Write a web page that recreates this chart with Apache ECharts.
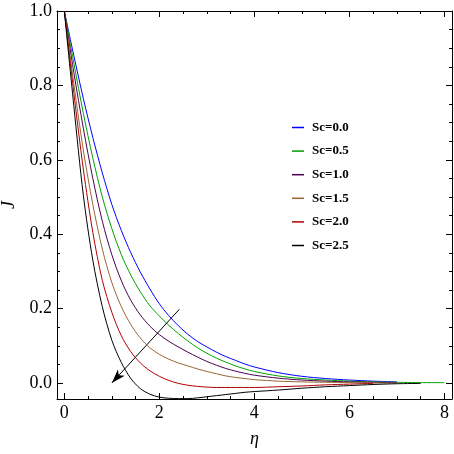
<!DOCTYPE html>
<html>
<head>
<meta charset="utf-8">
<script src="https://cdn.jsdelivr.net/npm/echarts@6/dist/echarts.min.js"></script>
<style>html,body{margin:0;padding:0;background:#fff}#c{width:454px;height:454px}</style>
</head>
<body>
<div id="c"></div>
<script>
var eta = [0, 0.2, 0.4, 0.6, 0.8, 1.0, 1.2, 1.4, 1.6, 1.8, 2.0, 2.2, 2.4, 2.6, 2.8, 3.0, 3.2, 3.4, 3.6, 3.8, 4.0, 4.5, 5.0, 5.5, 6.0, 6.5, 7.0, 7.5, 8.0];
var sc00 = [1, 0.88, 0.765, 0.66, 0.565, 0.48, 0.41, 0.35, 0.298, 0.253, 0.213, 0.181, 0.154, 0.131, 0.112, 0.097, 0.083, 0.071, 0.061, 0.051, 0.043, 0.028, 0.018, 0.012, 0.008, 0.005, 0.003, null, null];
var sc05 = [1, 0.86, 0.725, 0.605, 0.50, 0.415, 0.345, 0.29, 0.245, 0.208, 0.18, 0.155, 0.133, 0.113, 0.095, 0.080, 0.067, 0.056, 0.046, 0.038, 0.031, 0.019, 0.012, 0.008, 0.005, 0.003, 0.002, 0.001, 0.001];
var sc10 = [1, 0.835, 0.685, 0.55, 0.435, 0.345, 0.275, 0.222, 0.183, 0.153, 0.130, 0.112, 0.097, 0.083, 0.070, 0.058, 0.048, 0.039, 0.032, 0.026, 0.021, 0.013, 0.008, 0.005, 0.003, 0.002, 0.001, null, null];
var sc15 = [1, 0.805, 0.626, 0.48, 0.36, 0.27, 0.205, 0.157, 0.121, 0.095, 0.077, 0.064, 0.054, 0.046, 0.038, 0.031, 0.025, 0.019, 0.015, 0.012, 0.009, 0.005, 0.003, 0.002, 0.001, 0, 0, null, null];
var sc20 = [1, 0.78, 0.575, 0.405, 0.276, 0.19, 0.127, 0.084, 0.054, 0.033, 0.018, 0.007, -0.001, -0.006, -0.009, -0.011, -0.012, -0.012, -0.012, -0.012, -0.012, -0.010, -0.008, -0.005, -0.003, -0.001, null, null, null];
var sc25 = [1, 0.745, 0.505, 0.33, 0.205, 0.115, 0.055, 0.012, -0.015, -0.03, -0.038, -0.041, -0.042, -0.042, -0.040, -0.037, -0.034, -0.031, -0.028, -0.025, -0.023, -0.019, -0.014, -0.010, -0.007, -0.004, -0.002, -0.001, null];
var seriesNames = ['Sc=0.0', 'Sc=0.5', 'Sc=1.0', 'Sc=1.5', 'Sc=2.0', 'Sc=2.5'];
var seriesColors = ['#0000ff', '#00a000', '#4c004f', '#996633', '#b00000', '#000000'];
var seriesValues = [sc00, sc05, sc10, sc15, sc20, sc25];
var arrowFrom = [2.42, 0.198];
var arrowTo = [1.0, 0.0];
var xRange = [-0.154, 8.16];
var yRange = [-0.043, 1.0];

function pairs(vals) {
  var out = [];
  for (var i = 0; i < eta.length; i++) {
    if (vals[i] !== null && vals[i] !== undefined) out.push([eta[i], vals[i]]);
  }
  return out;
}

var serif = '"Liberation Serif", "DejaVu Serif", serif';

function xLab(v) {
  var r = Math.round(v);
  return (Math.abs(v - r) < 1e-6 && r % 2 === 0) ? String(r) : '';
}
function yLab(v) {
  var r = Math.round(v * 5);
  return (Math.abs(v * 5 - r) < 1e-6 && v > -0.01) ? (r / 5).toFixed(1) : '';
}

function makeAxis(base, extra) {
  var a = {
    type: 'value',
    min: base.min, max: base.max,
    splitNumber: 5,
    axisLine: { show: true, onZero: false, lineStyle: { color: '#000', width: 1 } },
    axisTick: { show: true, inside: true, length: 6, lineStyle: { color: '#000', width: 1 } },
    minorTick: { show: true, splitNumber: 4, length: 3, lineStyle: { color: '#000', width: 1 } },
    splitLine: { show: false },
    minorSplitLine: { show: false }
  };
  for (var k in extra) a[k] = extra[k];
  return a;
}

var series = seriesValues.map(function (vals, i) {
  return {
    name: seriesNames[i],
    type: 'line',
    xAxisIndex: 0, yAxisIndex: 0,
    data: pairs(vals),
    showSymbol: false,
    symbol: 'none',
    smooth: 0.3,
    lineStyle: { color: seriesColors[i], width: 1 },
    itemStyle: { color: seriesColors[i] },
    animation: false,
    z: 2 + i
  };
});
series.push({
  type: 'line',
  data: [],
  xAxisIndex: 0, yAxisIndex: 0,
  animation: false,
  markLine: {
    silent: true,
    animation: false,
    symbol: ['none', 'arrow'],
    symbolSize: [7, 14],
    label: { show: false },
    lineStyle: { color: '#000', width: 1, type: 'solid' },
    data: [[{ coord: arrowFrom }, { coord: arrowTo }]]
  }
});

var chart = echarts.init(document.getElementById('c'), null, { renderer: 'canvas' });
chart.setOption({
  animation: false,
  backgroundColor: '#fff',
  grid: { left: 57, right: 2, top: 11, bottom: 55, containLabel: false, outerBoundsMode: 'none' },
  legend: {
    orient: 'vertical',
    left: 287, top: 116,
    itemWidth: 12, itemHeight: 1.5,
    itemGap: 10.6,
    icon: 'rect',
    data: seriesNames.map(function (n, i) { return { name: n, itemStyle: { color: seriesColors[i] } }; }),
    textStyle: { color: '#000', fontFamily: serif, fontWeight: 'bold', fontSize: 13, lineHeight: 13, padding: [0, 0, 0, 3] }
  },
  xAxis: [
    makeAxis({ min: xRange[0], max: xRange[1] }, {
      position: 'bottom',
      name: 'η', nameLocation: 'middle', nameGap: 31,
      nameTextStyle: { color: '#000', fontFamily: serif, fontStyle: 'italic', fontSize: 18 },
      axisLabel: { show: true, formatter: xLab, margin: 5, color: '#000', fontFamily: serif, fontSize: 18 }
    }),
    makeAxis({ min: xRange[0], max: xRange[1] }, {
      position: 'top',
      axisLabel: { show: false }
    })
  ],
  yAxis: [
    makeAxis({ min: yRange[0], max: yRange[1] }, {
      position: 'left',
      name: 'J', nameLocation: 'middle', nameGap: 38, nameRotate: 90,
      nameTextStyle: { color: '#000', fontFamily: serif, fontStyle: 'italic', fontSize: 18 },
      axisLabel: { show: true, formatter: yLab, margin: 5, color: '#000', fontFamily: serif, fontSize: 18 }
    }),
    makeAxis({ min: yRange[0], max: yRange[1] }, {
      position: 'right',
      axisLabel: { show: false }
    })
  ],
  series: series
});
</script>
</body>
</html>
